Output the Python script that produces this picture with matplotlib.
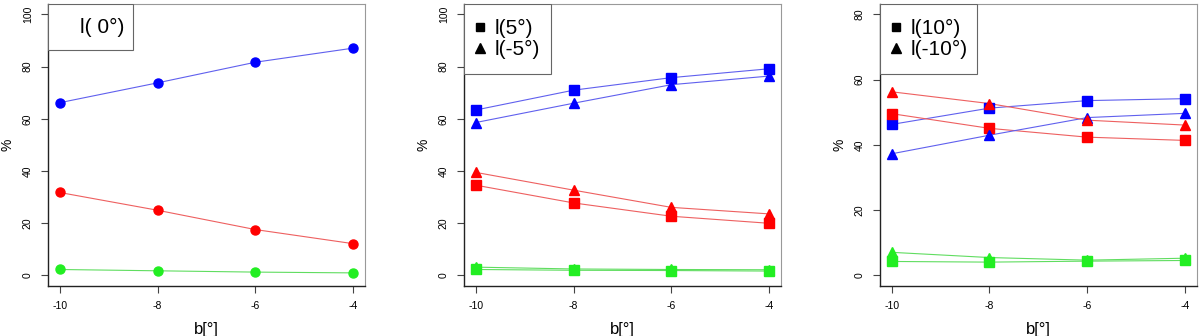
import matplotlib
matplotlib.use("Agg")
import matplotlib.pyplot as plt
from matplotlib.lines import Line2D
from matplotlib.patches import Rectangle

plt.rcParams['font.family'] = ['Liberation Sans', 'DejaVu Sans']

b = [-10, -8, -6, -4]

# l = 0
blue_0 = [66.2, 73.8, 81.7, 87.1]
red_0 = [31.8, 25.0, 17.6, 12.2]
green_0 = [2.3, 1.8, 1.3, 1.0]

# l = +5 (squares) / -5 (triangles)
blue_p5 = [63.4, 71.0, 75.8, 79.2]
blue_m5 = [58.6, 66.0, 73.1, 76.4]
red_p5 = [34.6, 27.8, 22.7, 20.0]
red_m5 = [39.5, 32.7, 26.1, 23.6]
green_p5 = [2.3, 2.0, 1.9, 1.7]
green_m5 = [3.2, 2.5, 2.3, 2.2]

# l = +10 (squares) / -10 (triangles)
blue_p10 = [46.3, 51.3, 53.6, 54.2]
blue_m10 = [37.3, 43.0, 48.4, 49.7]
red_p10 = [49.6, 45.1, 42.4, 41.4]
red_m10 = [56.3, 52.7, 47.6, 46.1]
green_p10 = [4.3, 4.1, 4.4, 4.6]
green_m10 = [7.1, 5.5, 4.7, 5.3]

x_ticks = [-10, -8, -6, -4]
y_ticks_100 = [0, 20, 40, 60, 80, 100]
y_ticks_80 = [0, 20, 40, 60, 80]

cols = {'blue': '#0000ff', 'red': '#ff0000', 'green': '#22ee22'}
line_cols = {'blue': '#6060ee', 'red': '#ee6060', 'green': '#60dd60'}

fig = plt.figure(figsize=(12, 3.36), dpi=100)
lefts = [0.040, 0.3867, 0.7333]
axes = [fig.add_axes([l, 0.149, 0.264, 0.839]) for l in lefts]


def series(ax, y, c, marker, ms):
    ax.plot(b, y, color=line_cols[c], lw=0.8, zorder=2)
    ax.plot(b, y, linestyle='none', marker=marker, ms=ms,
            color=cols[c], mec=cols[c], zorder=3)


def style(ax, ymax, yticks):
    ax.set_xlim(-10.24, -3.76)
    ax.set_ylim(-0.04 * ymax, 1.04 * ymax)
    ax.set_xticks(x_ticks)
    ax.set_yticks(yticks)
    ax.set_xticklabels([str(v) for v in x_ticks], fontsize=7.5)
    ax.set_yticklabels([str(v) for v in yticks], fontsize=7.5,
                       rotation=90, va='center')
    ax.tick_params(length=5, width=0.8, pad=6, color='#444444')
    for s in ['top', 'right']:
        ax.spines[s].set_color('#999999')
        ax.spines[s].set_linewidth(0.8)
    for s in ['left', 'bottom']:
        ax.spines[s].set_color('#222222')
        ax.spines[s].set_linewidth(1.0)
    ax.set_xlabel('b[°]', fontsize=12, labelpad=8)
    ax.set_ylabel('%', fontsize=10, labelpad=6)


def add_legend(ax, handles, labels, w, h, loc, **kw):
    # R-style legend box: frame drawn as a rectangle in the top-left corner
    ax.add_patch(Rectangle((0, 1 - h), w, h, transform=ax.transAxes,
                           facecolor='white', edgecolor='#666666', lw=0.8,
                           zorder=4))
    leg = ax.legend(handles, labels, loc=loc, frameon=False,
                    bbox_to_anchor=(0, 1 - h, w, h), borderaxespad=0,
                    fontsize=15, **kw)
    leg.set_zorder(5)


# panel 1
ax = axes[0]
series(ax, blue_0, 'blue', 'o', 6.5)
series(ax, red_0, 'red', 'o', 6.5)
series(ax, green_0, 'green', 'o', 6.5)
style(ax, 100, y_ticks_100)
add_legend(ax, [Line2D([], [], linestyle='none', marker='')], ['l( 0°)'],
           0.268, 0.163, 'center right',
           handlelength=0, handletextpad=0, borderpad=0.4)

# panel 2
ax = axes[1]
for y, c in [(blue_p5, 'blue'), (red_p5, 'red'), (green_p5, 'green')]:
    series(ax, y, c, 's', 6.5)
for y, c in [(blue_m5, 'blue'), (red_m5, 'red'), (green_m5, 'green')]:
    series(ax, y, c, '^', 7)
style(ax, 100, y_ticks_100)
h = [Line2D([], [], linestyle='none', marker='s', color='black', ms=6),
     Line2D([], [], linestyle='none', marker='^', color='black', ms=7)]
add_legend(ax, h, ['l(5°)', 'l(-5°)'], 0.275, 0.248, 'center left',
           handlelength=0.74, borderpad=0.4, handletextpad=0.35,
           labelspacing=0.1)

# panel 3
ax = axes[2]
for y, c in [(blue_p10, 'blue'), (red_p10, 'red'), (green_p10, 'green')]:
    series(ax, y, c, 's', 6.5)
for y, c in [(blue_m10, 'blue'), (red_m10, 'red'), (green_m10, 'green')]:
    series(ax, y, c, '^', 7)
style(ax, 80, y_ticks_80)
h = [Line2D([], [], linestyle='none', marker='s', color='black', ms=6),
     Line2D([], [], linestyle='none', marker='^', color='black', ms=7)]
add_legend(ax, h, ['l(10°)', 'l(-10°)'], 0.306, 0.248, 'center left',
           handlelength=0.74, borderpad=0.4, handletextpad=0.35,
           labelspacing=0.1)

fig.savefig('out.png', dpi=100)
